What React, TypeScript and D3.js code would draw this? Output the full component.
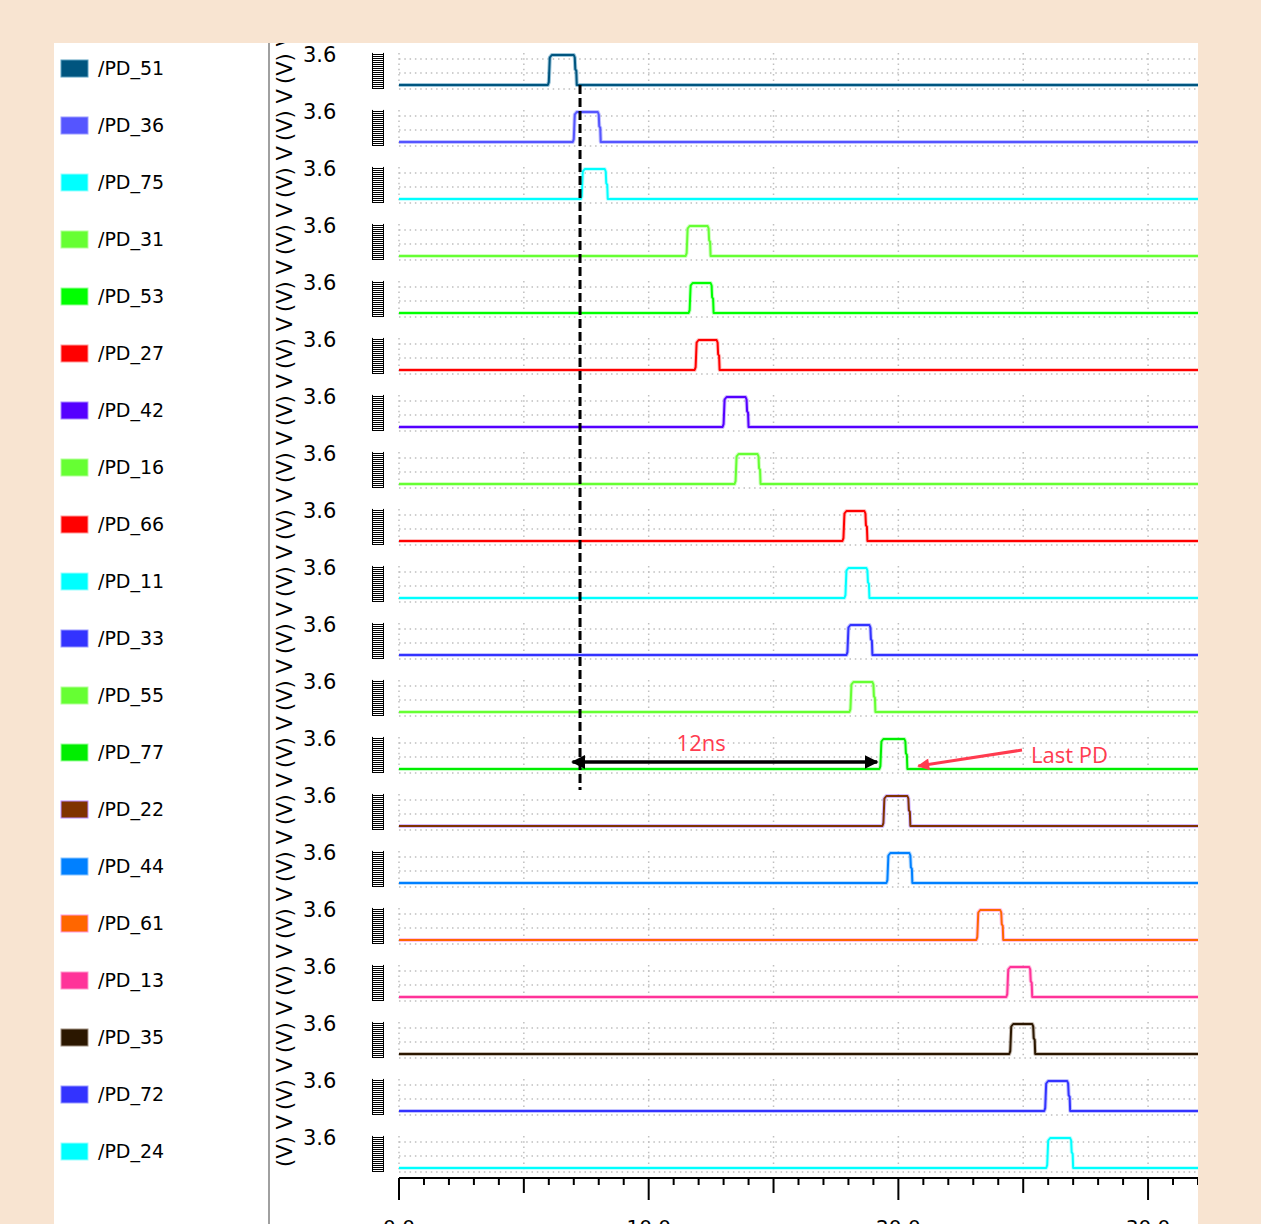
import React from "react";
import * as d3 from "d3";

// signal names, top to bottom
const signals = [
  "/PD_51", "/PD_36", "/PD_75", "/PD_31", "/PD_53", "/PD_27", "/PD_42",
  "/PD_16", "/PD_66", "/PD_11", "/PD_33", "/PD_55", "/PD_77", "/PD_22",
  "/PD_44", "/PD_61", "/PD_13", "/PD_35", "/PD_72", "/PD_24",
];
const colors = [
  "#00557f", "#5555ff", "#00ffff", "#66ff33", "#00ff00", "#ff0000", "#5500ff",
  "#66ff33", "#ff0000", "#00ffff", "#3333ff", "#66ff33", "#00ee00", "#7f3300",
  "#0080ff", "#ff6600", "#ff3399", "#2b1700", "#3333ff", "#00ffff",
];
const halos = [
  "#5a9fc0", "#9999ff", "#99ffff", "#b3ff99", "#99ff99", "#ff9999", "#aa88ff",
  "#b3ff99", "#ff9999", "#99ffff", "#9999ff", "#b3ff99", "#99ff99", "#b98cff",
  "#88c4ff", "#ff99dd", "#ff99cc", "#a09080", "#9999ff", "#99ffff",
];
// pulse rise / fall times (ns)
const riseTimes = [
  5.96, 6.96, 7.28, 11.48, 11.6, 11.84, 12.96, 13.44, 17.76, 17.84, 17.92,
  18.04, 19.24, 19.36, 19.52, 23.12, 24.32, 24.44, 25.84, 25.92,
];
const fallTimes = [
  7.0, 7.96, 8.24, 12.36, 12.48, 12.72, 13.88, 14.36, 18.64, 18.72, 18.84,
  18.96, 20.24, 20.36, 20.44, 24.08, 25.24, 25.36, 26.76, 26.88,
];
const vHigh = 3.6;
const xTickLabels = ["0.0", "10.0", "20.0", "30.0"];
const gridVolts = [3.12, 1.44, -0.48];
const gridTimes = [0, 5, 10, 15, 20, 25, 30];
// annotation
const markerTime = 7.25;
const arrowFrom = 6.95;
const arrowTo = 19.15;
const labelTime = 12.1;
const lastPdRow = 12;

const W = 1261;
const H = 1224;

export default function App() {
  const x = d3.scaleLinear().domain([0, 32]).range([399, 1198]);
  const row = d3.scalePoint<string>().domain(signals).range([85, 1168]);
  const v = d3.scaleLinear().domain([0, vHigh]).range([0, -30]);
  const line = d3
    .line<[number, number]>()
    .x((d) => x(d[0]))
    .y((d) => v(d[1]));

  const pulse = (r: number, f: number): [number, number][] => [
    [0, 0],
    [r, 0],
    [r + 0.04, 0.35],
    [r + 0.08, 3.3],
    [r + 0.16, vHigh],
    [f, vHigh],
    [f + 0.04, 3.3],
    [f + 0.06, 1.9],
    [f + 0.1, 1.7],
    [f + 0.12, 0],
    [32, 0],
  ];

  const ruler = d3.range(-0.36, 3.86, 0.24);
  const minorTicks = d3.range(0, 33, 1);
  const font = "DejaVu Sans, Verdana, sans-serif";
  const red = "#ff3b4f";
  const yArrow = row(signals[lastPdRow])! - 7;

  return (
    <svg
      width={W}
      height={H}
      style={{ position: "absolute", left: 0, top: 0 }}
      fontFamily={font}
    >
      <defs>
        <clipPath id="panel">
          <rect x={54} y={43} width={1144} height={H - 43} />
        </clipPath>
        <marker id="blk" viewBox="0 0 10 10" refX="9" refY="5" markerWidth="4" markerHeight="4" orient="auto-start-reverse">
          <path d="M0,0 L10,5 L0,10 z" fill="#000" />
        </marker>
        <marker id="rd" viewBox="0 0 10 10" refX="9" refY="5" markerWidth="5" markerHeight="4" orient="auto">
          <path d="M0,0 L10,5 L0,10 z" fill={red} />
        </marker>
      </defs>
      <rect width={W} height={H} fill="#f8e4d1" />
      <rect x={54} y={43} width={1144} height={H - 43} fill="#fff" />
      <line x1={269} x2={269} y1={43} y2={H} stroke="#a0a0a0" strokeWidth={2} />

      <g clipPath="url(#panel)">
        {signals.map((s, i) => {
          const y0 = row(s)!;
          return (
            <g key={s}>
              {/* legend */}
              <rect x={61} y={y0 - 25} width={27} height={17} fill={colors[i]} stroke={halos[i]} strokeWidth={1} />
              <text x={98} y={y0 - 10} fontSize={19} fill="#000">{s}</text>
              {/* y label */}
              <text
                transform={`translate(292,${y0 - 1}) rotate(-90)`}
                fontSize={21}
                fill="#000"
              >
                (V) V
              </text>
              <text x={303} y={y0 - 23} fontSize={21} fill="#000">3.6</text>
              {/* ruler */}
              <g stroke="#000" strokeWidth={1}>
                {ruler.map((r) => (
                  <line key={r} x1={372} x2={384} y1={Math.round(y0 + v(r)) + 0.5} y2={Math.round(y0 + v(r)) + 0.5} />
                ))}
                <line x1={372.5} x2={372.5} y1={y0 + v(3.85)} y2={y0 + v(-0.4)} />
                <line x1={383.5} x2={383.5} y1={y0 + v(3.85)} y2={y0 + v(-0.4)} />
              </g>
              {/* grid */}
              <g stroke="#bfbfbf" strokeWidth={1.5} strokeDasharray="1.5 3.8">
                {gridVolts.map((g) => (
                  <line key={g} x1={399} x2={1198} y1={y0 + v(g)} y2={y0 + v(g)} />
                ))}
                {gridTimes.map((t) => (
                  <line key={t} x1={x(t)} x2={x(t)} y1={y0 + v(3.85)} y2={y0 + v(-0.48)} />
                ))}
              </g>
              {/* trace */}
              <g transform={`translate(0,${y0})`} fill="none" strokeLinejoin="round">
                <path d={line(pulse(riseTimes[i], fallTimes[i]))!} stroke={halos[i]} strokeWidth={4} opacity={0.6} />
                <path d={line(pulse(riseTimes[i], fallTimes[i]))!} stroke={colors[i]} strokeWidth={2} />
              </g>
            </g>
          );
        })}

        {/* x axis */}
        <g stroke="#000" strokeWidth={2}>
          <line x1={399} x2={1198} y1={1178} y2={1178} />
          {minorTicks.map((t) => (
            <line
              key={t}
              x1={x(t)}
              x2={x(t)}
              y1={1178}
              y2={t % 10 === 0 ? 1200 : t % 5 === 0 ? 1193 : 1185}
            />
          ))}
        </g>
        {xTickLabels.map((l, k) => (
          <text key={l} x={x(k * 10)} y={1234} fontSize={20} textAnchor="middle" fill="#000">
            {l}
          </text>
        ))}

        {/* annotations */}
        <line
          x1={x(markerTime)}
          x2={x(markerTime)}
          y1={row(signals[0])!}
          y2={row(signals[lastPdRow])! + 21}
          stroke="#000"
          strokeWidth={3}
          strokeDasharray="9 4"
        />
        <line
          x1={x(arrowFrom)}
          x2={x(arrowTo)}
          y1={yArrow}
          y2={yArrow}
          stroke="#000"
          strokeWidth={3.5}
          markerStart="url(#blk)"
          markerEnd="url(#blk)"
        />
        <text
          x={x(labelTime)}
          y={751}
          fontSize={22}
          fontFamily="Open Sans, sans-serif"
          textAnchor="middle"
          fill={red}
        >
          12ns
        </text>
        <line
          x1={1022}
          x2={x(fallTimes[lastPdRow]) + 14}
          y1={750}
          y2={766}
          stroke={red}
          strokeWidth={3}
          markerEnd="url(#rd)"
        />
        <text x={1031} y={763} fontSize={22} fontFamily="Open Sans, sans-serif" fill={red}>
          Last PD
        </text>
      </g>
    </svg>
  );
}
